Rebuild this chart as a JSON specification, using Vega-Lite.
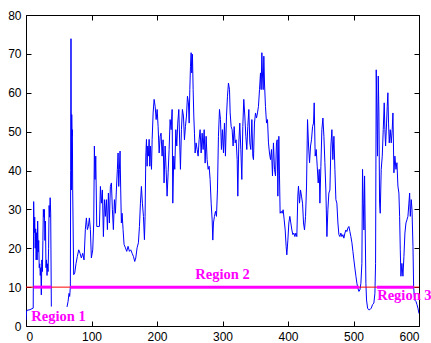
{
  "$schema": "https://vega.github.io/schema/vega-lite/v6.json",
  "width": 393,
  "height": 311,
  "autosize": {"type": "none"},
  "padding": {"left": 26, "top": 15, "right": 12, "bottom": 17},
  "background": "white",
  "config": {
    "view": {"stroke": null},
    "axis": {
      "grid": false,
      "domainColor": "#000000",
      "domainWidth": 1,
      "tickColor": "#000000",
      "tickSize": -5,
      "labelPadding": 10,
      "labelFont": "Liberation Sans",
      "labelColor": "#000000",
      "labelFontSize": 12,
      "title": null,
      "zindex": 1
    }
  },
  "datasets": {
    "signal": [
      {"seg": 1, "x": 0, "y": 1.5}, {"seg": 1, "x": 1, "y": 4}, {"seg": 1, "x": 6, "y": 4.2}, {"seg": 1, "x": 11, "y": 4.6},
      {"seg": 1, "x": 11.7, "y": 32}, {"seg": 1, "x": 12.5, "y": 24}, {"seg": 1, "x": 13.3, "y": 28}, {"seg": 1, "x": 14, "y": 20},
      {"seg": 1, "x": 14.8, "y": 25}, {"seg": 1, "x": 15.5, "y": 17}, {"seg": 1, "x": 16.3, "y": 24}, {"seg": 1, "x": 17, "y": 17},
      {"seg": 1, "x": 17.8, "y": 27}, {"seg": 1, "x": 18.6, "y": 19}, {"seg": 1, "x": 19.4, "y": 22}, {"seg": 1, "x": 20.2, "y": 15},
      {"seg": 1, "x": 21, "y": 16}, {"seg": 1, "x": 21.8, "y": 13}, {"seg": 1, "x": 22.6, "y": 15}, {"seg": 1, "x": 23.4, "y": 8},
      {"seg": 1, "x": 24.2, "y": 17}, {"seg": 1, "x": 25, "y": 14}, {"seg": 1, "x": 25.8, "y": 22}, {"seg": 1, "x": 26.5, "y": 30},
      {"seg": 1, "x": 27.3, "y": 28}, {"seg": 1, "x": 28.1, "y": 30}, {"seg": 1, "x": 28.9, "y": 22}, {"seg": 1, "x": 29.7, "y": 27},
      {"seg": 1, "x": 30.5, "y": 15}, {"seg": 1, "x": 31.3, "y": 17}, {"seg": 1, "x": 32.1, "y": 13}, {"seg": 1, "x": 32.9, "y": 16},
      {"seg": 1, "x": 33.7, "y": 14}, {"seg": 1, "x": 34.5, "y": 20}, {"seg": 1, "x": 35.3, "y": 31}, {"seg": 1, "x": 36.1, "y": 28},
      {"seg": 1, "x": 36.9, "y": 33}, {"seg": 1, "x": 37.7, "y": 29}, {"seg": 1, "x": 38.7, "y": 5},
      {"seg": 2, "x": 62.6, "y": 4.9}, {"seg": 2, "x": 64.2, "y": 6.3}, {"seg": 2, "x": 65.7, "y": 8.4}, {"seg": 2, "x": 66.7, "y": 7.6},
      {"seg": 2, "x": 67.7, "y": 10.2}, {"seg": 2, "x": 68.2, "y": 40}, {"seg": 2, "x": 68.7, "y": 73.9}, {"seg": 2, "x": 69.3, "y": 35},
      {"seg": 2, "x": 69.8, "y": 54.4}, {"seg": 2, "x": 70.3, "y": 48.8}, {"seg": 2, "x": 70.8, "y": 50.5}, {"seg": 2, "x": 71.3, "y": 35},
      {"seg": 2, "x": 72.8, "y": 13.2}, {"seg": 2, "x": 74.4, "y": 13.6}, {"seg": 2, "x": 76.4, "y": 16.1}, {"seg": 2, "x": 78.4, "y": 17.9},
      {"seg": 2, "x": 80.5, "y": 19.6}, {"seg": 2, "x": 82.5, "y": 18.7}, {"seg": 2, "x": 84.5, "y": 17.5}, {"seg": 2, "x": 86.6, "y": 18.7},
      {"seg": 2, "x": 88.6, "y": 17}, {"seg": 2, "x": 90.6, "y": 24.8}, {"seg": 2, "x": 92.2, "y": 27.8}, {"seg": 2, "x": 93.7, "y": 24.8},
      {"seg": 2, "x": 95.2, "y": 25.6}, {"seg": 2, "x": 96.8, "y": 27.8}, {"seg": 2, "x": 98.3, "y": 24.8}, {"seg": 2, "x": 99.8, "y": 17.5},
      {"seg": 2, "x": 101.9, "y": 19.6}, {"seg": 2, "x": 103.4, "y": 26.5}, {"seg": 2, "x": 104.4, "y": 46.3}, {"seg": 2, "x": 105.4, "y": 37.7},
      {"seg": 2, "x": 106.5, "y": 43.7}, {"seg": 2, "x": 108, "y": 25.6}, {"seg": 2, "x": 110, "y": 25.6}, {"seg": 2, "x": 112.1, "y": 25.6},
      {"seg": 2, "x": 113.6, "y": 35.9}, {"seg": 2, "x": 115.1, "y": 31.6}, {"seg": 2, "x": 116.6, "y": 35}, {"seg": 2, "x": 118.2, "y": 23},
      {"seg": 2, "x": 119.7, "y": 32.5}, {"seg": 2, "x": 121.2, "y": 28.2}, {"seg": 2, "x": 122.7, "y": 32.5}, {"seg": 2, "x": 124.3, "y": 24.8},
      {"seg": 2, "x": 125.8, "y": 34.2}, {"seg": 2, "x": 127.3, "y": 26.5}, {"seg": 2, "x": 128.8, "y": 35.9}, {"seg": 2, "x": 130.4, "y": 36.8},
      {"seg": 2, "x": 131.9, "y": 29.9}, {"seg": 2, "x": 133.4, "y": 24.8}, {"seg": 2, "x": 135, "y": 32.5}, {"seg": 2, "x": 136.5, "y": 29},
      {"seg": 2, "x": 138, "y": 35}, {"seg": 2, "x": 139.5, "y": 40.3}, {"seg": 2, "x": 140.6, "y": 44.5}, {"seg": 2, "x": 141.6, "y": 35.9},
      {"seg": 2, "x": 142.6, "y": 40.3}, {"seg": 2, "x": 143.6, "y": 45}, {"seg": 2, "x": 144.6, "y": 35}, {"seg": 2, "x": 145.6, "y": 26.5},
      {"seg": 2, "x": 146.7, "y": 29}, {"seg": 2, "x": 148.2, "y": 24.8}, {"seg": 2, "x": 149.7, "y": 21}, {"seg": 2, "x": 151.8, "y": 20.1},
      {"seg": 2, "x": 153.8, "y": 19.2}, {"seg": 2, "x": 155.8, "y": 20.5}, {"seg": 2, "x": 157.9, "y": 19.2}, {"seg": 2, "x": 159.9, "y": 19.6},
      {"seg": 2, "x": 162, "y": 18.7}, {"seg": 2, "x": 164, "y": 17.9}, {"seg": 2, "x": 166, "y": 16.6}, {"seg": 2, "x": 167.6, "y": 17.5},
      {"seg": 2, "x": 169.6, "y": 20.1}, {"seg": 2, "x": 171.6, "y": 21.4}, {"seg": 2, "x": 173.2, "y": 25.6}, {"seg": 2, "x": 174.7, "y": 31.6},
      {"seg": 2, "x": 176.2, "y": 35.9}, {"seg": 2, "x": 177.7, "y": 31.6}, {"seg": 2, "x": 179.3, "y": 28.2}, {"seg": 2, "x": 180.8, "y": 22.2},
      {"seg": 2, "x": 181.8, "y": 28.2}, {"seg": 2, "x": 182.9, "y": 43.7}, {"seg": 2, "x": 183.9, "y": 48}, {"seg": 2, "x": 184.9, "y": 41.1},
      {"seg": 2, "x": 185.9, "y": 46.3}, {"seg": 2, "x": 186.9, "y": 43.7}, {"seg": 2, "x": 188, "y": 48}, {"seg": 2, "x": 189, "y": 41.1},
      {"seg": 2, "x": 190, "y": 46.3}, {"seg": 2, "x": 191.6, "y": 40.3}, {"seg": 2, "x": 192.6, "y": 48}, {"seg": 2, "x": 194.1, "y": 54.8},
      {"seg": 2, "x": 195.6, "y": 58.3}, {"seg": 2, "x": 197.2, "y": 56.5}, {"seg": 2, "x": 198.7, "y": 53.1}, {"seg": 2, "x": 200.2, "y": 55.7},
      {"seg": 2, "x": 201.7, "y": 51.3}, {"seg": 2, "x": 203.3, "y": 44.5}, {"seg": 2, "x": 204.8, "y": 48.8}, {"seg": 2, "x": 206.2, "y": 49.6},
      {"seg": 2, "x": 207.8, "y": 43.7}, {"seg": 2, "x": 209.3, "y": 47.9}, {"seg": 2, "x": 210.8, "y": 36.8}, {"seg": 2, "x": 212.4, "y": 46.3},
      {"seg": 2, "x": 213.9, "y": 40.3}, {"seg": 2, "x": 215.4, "y": 33.4}, {"seg": 2, "x": 217, "y": 39.4}, {"seg": 2, "x": 218.5, "y": 45.4},
      {"seg": 2, "x": 220, "y": 53.1}, {"seg": 2, "x": 221.6, "y": 50.5}, {"seg": 2, "x": 223.1, "y": 55.7}, {"seg": 2, "x": 224.1, "y": 31.6},
      {"seg": 2, "x": 225.6, "y": 43.7}, {"seg": 2, "x": 227.1, "y": 40.3}, {"seg": 2, "x": 228.7, "y": 50.5}, {"seg": 2, "x": 230.2, "y": 46.3},
      {"seg": 2, "x": 231.7, "y": 52.2}, {"seg": 2, "x": 233.3, "y": 55.7}, {"seg": 2, "x": 234.8, "y": 46.3}, {"seg": 2, "x": 235.8, "y": 40.3},
      {"seg": 2, "x": 237.3, "y": 50.5}, {"seg": 2, "x": 238.8, "y": 55.7}, {"seg": 2, "x": 240.4, "y": 54}, {"seg": 2, "x": 241.9, "y": 47.9},
      {"seg": 2, "x": 243.4, "y": 51.3}, {"seg": 2, "x": 245, "y": 54}, {"seg": 2, "x": 246.5, "y": 59.1}, {"seg": 2, "x": 248, "y": 57.4},
      {"seg": 2, "x": 249.1, "y": 52.2}, {"seg": 2, "x": 250.1, "y": 60.8}, {"seg": 2, "x": 251.1, "y": 66.8}, {"seg": 2, "x": 252.1, "y": 70.3},
      {"seg": 2, "x": 253.1, "y": 65.1}, {"seg": 2, "x": 254.1, "y": 69.9}, {"seg": 2, "x": 255.2, "y": 60.8}, {"seg": 2, "x": 256.2, "y": 54},
      {"seg": 2, "x": 257.2, "y": 49.6}, {"seg": 2, "x": 258.2, "y": 44.5}, {"seg": 2, "x": 259.7, "y": 47.1}, {"seg": 2, "x": 261.3, "y": 45.4},
      {"seg": 2, "x": 262.8, "y": 43.7}, {"seg": 2, "x": 264.3, "y": 47.9}, {"seg": 2, "x": 265.8, "y": 50.5}, {"seg": 2, "x": 267.4, "y": 44.5},
      {"seg": 2, "x": 268.9, "y": 49.6}, {"seg": 2, "x": 270.4, "y": 45.4}, {"seg": 2, "x": 272, "y": 50.5}, {"seg": 2, "x": 273.5, "y": 41.9},
      {"seg": 2, "x": 275, "y": 48.8}, {"seg": 2, "x": 276.5, "y": 42.8}, {"seg": 2, "x": 278.1, "y": 40.3}, {"seg": 2, "x": 279.6, "y": 41.1},
      {"seg": 2, "x": 281.1, "y": 37.7}, {"seg": 2, "x": 282.7, "y": 31.6}, {"seg": 2, "x": 284.2, "y": 27.3}, {"seg": 2, "x": 285.2, "y": 22.1},
      {"seg": 2, "x": 286.2, "y": 26.5}, {"seg": 2, "x": 287.7, "y": 28.2}, {"seg": 2, "x": 289.3, "y": 29.5}, {"seg": 2, "x": 290.8, "y": 28.2},
      {"seg": 2, "x": 292.3, "y": 35}, {"seg": 2, "x": 293.8, "y": 48.8}, {"seg": 2, "x": 295.4, "y": 55.7}, {"seg": 2, "x": 296.9, "y": 53.1},
      {"seg": 2, "x": 298.4, "y": 45.4}, {"seg": 2, "x": 299.9, "y": 50.5}, {"seg": 2, "x": 301.5, "y": 44.5}, {"seg": 2, "x": 303, "y": 52.2},
      {"seg": 2, "x": 304.5, "y": 43.7}, {"seg": 2, "x": 306.1, "y": 54}, {"seg": 2, "x": 307.6, "y": 59.1}, {"seg": 2, "x": 309.1, "y": 62.5},
      {"seg": 2, "x": 310.7, "y": 60.8}, {"seg": 2, "x": 311.7, "y": 54.8}, {"seg": 2, "x": 313.2, "y": 51.3}, {"seg": 2, "x": 314.7, "y": 50.5},
      {"seg": 2, "x": 316.2, "y": 46.3}, {"seg": 2, "x": 317.8, "y": 51.3}, {"seg": 2, "x": 319.3, "y": 47.1}, {"seg": 2, "x": 320.8, "y": 47.9},
      {"seg": 2, "x": 322.4, "y": 42.8}, {"seg": 2, "x": 323.4, "y": 33.4}, {"seg": 2, "x": 324.9, "y": 47.1}, {"seg": 2, "x": 326.4, "y": 52.2},
      {"seg": 2, "x": 328, "y": 45.4}, {"seg": 2, "x": 329.5, "y": 37.7}, {"seg": 2, "x": 331, "y": 51.3}, {"seg": 2, "x": 332.5, "y": 58.3},
      {"seg": 2, "x": 334.1, "y": 54}, {"seg": 2, "x": 335.6, "y": 48.8}, {"seg": 2, "x": 337.1, "y": 45.4}, {"seg": 2, "x": 338.6, "y": 51.3},
      {"seg": 2, "x": 340.2, "y": 55.7}, {"seg": 2, "x": 341.7, "y": 47.1}, {"seg": 2, "x": 343.2, "y": 45.4}, {"seg": 2, "x": 344.8, "y": 53.1},
      {"seg": 2, "x": 346.3, "y": 43.7}, {"seg": 2, "x": 347.3, "y": 42.8}, {"seg": 2, "x": 348.8, "y": 52.2}, {"seg": 2, "x": 350.4, "y": 54.8},
      {"seg": 2, "x": 351.9, "y": 53.5}, {"seg": 2, "x": 353.4, "y": 54.8}, {"seg": 2, "x": 354.9, "y": 56.5}, {"seg": 2, "x": 356.5, "y": 60.8},
      {"seg": 2, "x": 358, "y": 65.1}, {"seg": 2, "x": 359, "y": 60.8}, {"seg": 2, "x": 360.1, "y": 70.3}, {"seg": 2, "x": 361.1, "y": 64.3},
      {"seg": 2, "x": 362.1, "y": 60.8}, {"seg": 2, "x": 363.1, "y": 69.4}, {"seg": 2, "x": 364.1, "y": 62.5}, {"seg": 2, "x": 365.6, "y": 56.5},
      {"seg": 2, "x": 367.2, "y": 52.2}, {"seg": 2, "x": 368.7, "y": 53.1}, {"seg": 2, "x": 370.2, "y": 47.1}, {"seg": 2, "x": 371.7, "y": 44.5},
      {"seg": 2, "x": 373.3, "y": 42.8}, {"seg": 2, "x": 374.8, "y": 45.4}, {"seg": 2, "x": 376.3, "y": 38.6}, {"seg": 2, "x": 377.8, "y": 47.1},
      {"seg": 2, "x": 379.4, "y": 40.3}, {"seg": 2, "x": 380.9, "y": 38.6}, {"seg": 2, "x": 382.4, "y": 47.1}, {"seg": 2, "x": 383.5, "y": 47.9},
      {"seg": 2, "x": 384.5, "y": 33.4}, {"seg": 2, "x": 386, "y": 48.8}, {"seg": 2, "x": 387, "y": 38.6}, {"seg": 2, "x": 388, "y": 29},
      {"seg": 2, "x": 389.6, "y": 29.5}, {"seg": 2, "x": 391.1, "y": 29}, {"seg": 2, "x": 392.6, "y": 29.9}, {"seg": 2, "x": 394.2, "y": 27.3},
      {"seg": 2, "x": 395.7, "y": 24.7}, {"seg": 2, "x": 397.2, "y": 20.4}, {"seg": 2, "x": 398.2, "y": 18.3}, {"seg": 2, "x": 399.8, "y": 22.1},
      {"seg": 2, "x": 401.3, "y": 26.5}, {"seg": 2, "x": 402.8, "y": 28.2}, {"seg": 2, "x": 404.3, "y": 26.5}, {"seg": 2, "x": 405.9, "y": 24.7},
      {"seg": 2, "x": 407.4, "y": 23.5}, {"seg": 2, "x": 408.9, "y": 23.9}, {"seg": 2, "x": 410.5, "y": 23}, {"seg": 2, "x": 412, "y": 23.9},
      {"seg": 2, "x": 413.5, "y": 23}, {"seg": 2, "x": 415, "y": 33.4}, {"seg": 2, "x": 416, "y": 36}, {"seg": 2, "x": 417.6, "y": 31.6},
      {"seg": 2, "x": 419.1, "y": 35}, {"seg": 2, "x": 420.6, "y": 33.4}, {"seg": 2, "x": 422.2, "y": 31.6}, {"seg": 2, "x": 423.7, "y": 26.5},
      {"seg": 2, "x": 425.2, "y": 24.7}, {"seg": 2, "x": 426.8, "y": 28.2}, {"seg": 2, "x": 428.3, "y": 36}, {"seg": 2, "x": 429.8, "y": 53.1},
      {"seg": 2, "x": 431.4, "y": 46.3}, {"seg": 2, "x": 432.9, "y": 42}, {"seg": 2, "x": 434.4, "y": 46.3}, {"seg": 2, "x": 435.9, "y": 47.9},
      {"seg": 2, "x": 437.5, "y": 51.3}, {"seg": 2, "x": 439, "y": 52.2}, {"seg": 2, "x": 440, "y": 57.4}, {"seg": 2, "x": 441.5, "y": 43.7},
      {"seg": 2, "x": 443.1, "y": 45.4}, {"seg": 2, "x": 444.6, "y": 41.1}, {"seg": 2, "x": 446.1, "y": 36.8}, {"seg": 2, "x": 447.7, "y": 40.3},
      {"seg": 2, "x": 448.7, "y": 31.6}, {"seg": 2, "x": 450.2, "y": 41.1}, {"seg": 2, "x": 451.7, "y": 50.5}, {"seg": 2, "x": 453.3, "y": 53.5},
      {"seg": 2, "x": 454.8, "y": 48.8}, {"seg": 2, "x": 456.3, "y": 42}, {"seg": 2, "x": 457.8, "y": 35}, {"seg": 2, "x": 459.4, "y": 23},
      {"seg": 2, "x": 460.9, "y": 29.9}, {"seg": 2, "x": 462.4, "y": 34.2}, {"seg": 2, "x": 464, "y": 35}, {"seg": 2, "x": 465.5, "y": 46.3},
      {"seg": 2, "x": 467, "y": 50.5}, {"seg": 2, "x": 468.5, "y": 42.8}, {"seg": 2, "x": 470.1, "y": 48.8}, {"seg": 2, "x": 471.6, "y": 40.3},
      {"seg": 2, "x": 473.1, "y": 32.5}, {"seg": 2, "x": 474.6, "y": 31.6}, {"seg": 2, "x": 476.2, "y": 26.5}, {"seg": 2, "x": 477.7, "y": 23.5},
      {"seg": 2, "x": 479.2, "y": 23}, {"seg": 2, "x": 480.7, "y": 23.9}, {"seg": 2, "x": 482.3, "y": 23}, {"seg": 2, "x": 483.8, "y": 23.5},
      {"seg": 2, "x": 485.3, "y": 22.6}, {"seg": 2, "x": 486.9, "y": 23.9}, {"seg": 2, "x": 488.4, "y": 24.7}, {"seg": 2, "x": 489.9, "y": 24.3},
      {"seg": 2, "x": 491.4, "y": 25.2}, {"seg": 2, "x": 493, "y": 25.6}, {"seg": 2, "x": 494.5, "y": 24.3}, {"seg": 2, "x": 496, "y": 23},
      {"seg": 2, "x": 497.6, "y": 21.4}, {"seg": 2, "x": 499.1, "y": 19.2}, {"seg": 2, "x": 500.6, "y": 17}, {"seg": 2, "x": 502.1, "y": 14.9},
      {"seg": 2, "x": 503.7, "y": 12.8}, {"seg": 2, "x": 505.2, "y": 11}, {"seg": 2, "x": 506.7, "y": 9.7}, {"seg": 2, "x": 508.3, "y": 8.9},
      {"seg": 2, "x": 509.8, "y": 9.3}, {"seg": 2, "x": 511.3, "y": 11}, {"seg": 2, "x": 512.8, "y": 16.1}, {"seg": 2, "x": 513.8, "y": 40.3},
      {"seg": 2, "x": 514.9, "y": 31.6}, {"seg": 2, "x": 515.9, "y": 24.7}, {"seg": 2, "x": 516.9, "y": 38.6}, {"seg": 2, "x": 517.9, "y": 24.7},
      {"seg": 2, "x": 518.9, "y": 11}, {"seg": 2, "x": 519.9, "y": 6.7}, {"seg": 2, "x": 521.5, "y": 4.6}, {"seg": 2, "x": 523, "y": 4.2},
      {"seg": 2, "x": 525, "y": 4.2}, {"seg": 2, "x": 527.1, "y": 4.6}, {"seg": 2, "x": 529.1, "y": 5.5}, {"seg": 2, "x": 531.1, "y": 5.9},
      {"seg": 2, "x": 532.7, "y": 8.4}, {"seg": 2, "x": 533.7, "y": 16.1}, {"seg": 2, "x": 534.7, "y": 65.9}, {"seg": 2, "x": 535.7, "y": 54.8},
      {"seg": 2, "x": 536.7, "y": 43.7}, {"seg": 2, "x": 537.8, "y": 64.3}, {"seg": 2, "x": 538.8, "y": 54.8}, {"seg": 2, "x": 539.8, "y": 31.6},
      {"seg": 2, "x": 540.8, "y": 29}, {"seg": 2, "x": 542.3, "y": 40.3}, {"seg": 2, "x": 543.9, "y": 43.7}, {"seg": 2, "x": 545.4, "y": 50.5},
      {"seg": 2, "x": 546.9, "y": 57.4}, {"seg": 2, "x": 547.9, "y": 50.5}, {"seg": 2, "x": 549, "y": 46.3}, {"seg": 2, "x": 550.5, "y": 52.2},
      {"seg": 2, "x": 551.5, "y": 56.5}, {"seg": 2, "x": 552.5, "y": 60}, {"seg": 2, "x": 553.5, "y": 52.2}, {"seg": 2, "x": 554.6, "y": 47.1},
      {"seg": 2, "x": 556.1, "y": 50.5}, {"seg": 2, "x": 557.6, "y": 47.1}, {"seg": 2, "x": 559.1, "y": 50.5}, {"seg": 2, "x": 560.2, "y": 54.8},
      {"seg": 2, "x": 561.7, "y": 39.4}, {"seg": 2, "x": 563.2, "y": 43.7}, {"seg": 2, "x": 564.8, "y": 40.3}, {"seg": 2, "x": 566.3, "y": 42},
      {"seg": 2, "x": 567.8, "y": 36}, {"seg": 2, "x": 569.3, "y": 34.2}, {"seg": 2, "x": 570.4, "y": 28.2}, {"seg": 2, "x": 571.4, "y": 19.6},
      {"seg": 2, "x": 572.4, "y": 12.8}, {"seg": 2, "x": 573.9, "y": 16.1}, {"seg": 2, "x": 575.5, "y": 12.8}, {"seg": 2, "x": 577, "y": 17.9},
      {"seg": 2, "x": 578.5, "y": 23.9}, {"seg": 2, "x": 580.1, "y": 26.5}, {"seg": 2, "x": 581.6, "y": 27.3}, {"seg": 2, "x": 583.1, "y": 28.2},
      {"seg": 2, "x": 584.6, "y": 31.6}, {"seg": 2, "x": 585.7, "y": 34.2}, {"seg": 2, "x": 586.7, "y": 28.2}, {"seg": 2, "x": 588.2, "y": 32.5},
      {"seg": 2, "x": 589.3, "y": 29.9}, {"seg": 2, "x": 590.8, "y": 20.4}, {"seg": 2, "x": 591.8, "y": 10.1}, {"seg": 2, "x": 593.3, "y": 6.7},
      {"seg": 2, "x": 595.4, "y": 6.3}, {"seg": 2, "x": 596.9, "y": 5.5}, {"seg": 2, "x": 598.4, "y": 4.6}, {"seg": 2, "x": 600, "y": 3.2}
    ],
    "threshold": [{"x": 0, "x2": 600, "y": 10}],
    "regions": [
      {"x": 11.7, "x2": 38.7, "y": 10},
      {"x": 67.7, "x2": 508.7, "y": 10},
      {"x": 535.7, "x2": 591.7, "y": 10}
    ],
    "labels": [
      {"x": 49.6, "y": 2.4, "text": "Region 1"},
      {"x": 300, "y": 13, "text": "Region 2"},
      {"x": 577.7, "y": 7.6, "text": "Region 3"}
    ]
  },
  "layer": [
    {
      "data": {"name": "signal"},
      "mark": {"type": "line", "color": "#0000ff", "strokeWidth": 1, "clip": true},
      "encoding": {
        "x": {"field": "x", "type": "quantitative", "scale": {"domain": [0, 600], "nice": false, "zero": false},
              "axis": {"orient": "bottom", "values": [0, 100, 200, 300, 400, 500, 600]}},
        "y": {"field": "y", "type": "quantitative", "scale": {"domain": [0, 80], "nice": false, "zero": false},
              "axis": {"orient": "left", "values": [0, 10, 20, 30, 40, 50, 60, 70, 80]}},
        "detail": {"field": "seg", "type": "nominal"}
      }
    },
    {
      "data": {"name": "threshold"},
      "mark": {"type": "rule", "color": "#ff0000", "strokeWidth": 1},
      "encoding": {
        "x": {"field": "x", "type": "quantitative", "axis": {"orient": "top", "labels": false, "values": [0, 100, 200, 300, 400, 500, 600]}},
        "x2": {"field": "x2"},
        "y": {"field": "y", "type": "quantitative", "axis": {"orient": "right", "labels": false, "values": [0, 10, 20, 30, 40, 50, 60, 70, 80]}}
      }
    },
    {
      "data": {"name": "regions"},
      "mark": {"type": "rule", "color": "#ff00ff", "strokeWidth": 3},
      "encoding": {
        "x": {"field": "x", "type": "quantitative", "axis": null},
        "x2": {"field": "x2"},
        "y": {"field": "y", "type": "quantitative", "axis": null}
      }
    },
    {
      "data": {"name": "labels"},
      "mark": {"type": "text", "color": "#ff00ff", "font": "Liberation Serif", "fontWeight": "bold", "fontSize": 14.5, "align": "center", "baseline": "middle"},
      "encoding": {
        "x": {"field": "x", "type": "quantitative", "axis": null},
        "y": {"field": "y", "type": "quantitative", "axis": null},
        "text": {"field": "text"}
      }
    }
  ],
  "resolve": {"axis": {"x": "independent", "y": "independent"}}
}
